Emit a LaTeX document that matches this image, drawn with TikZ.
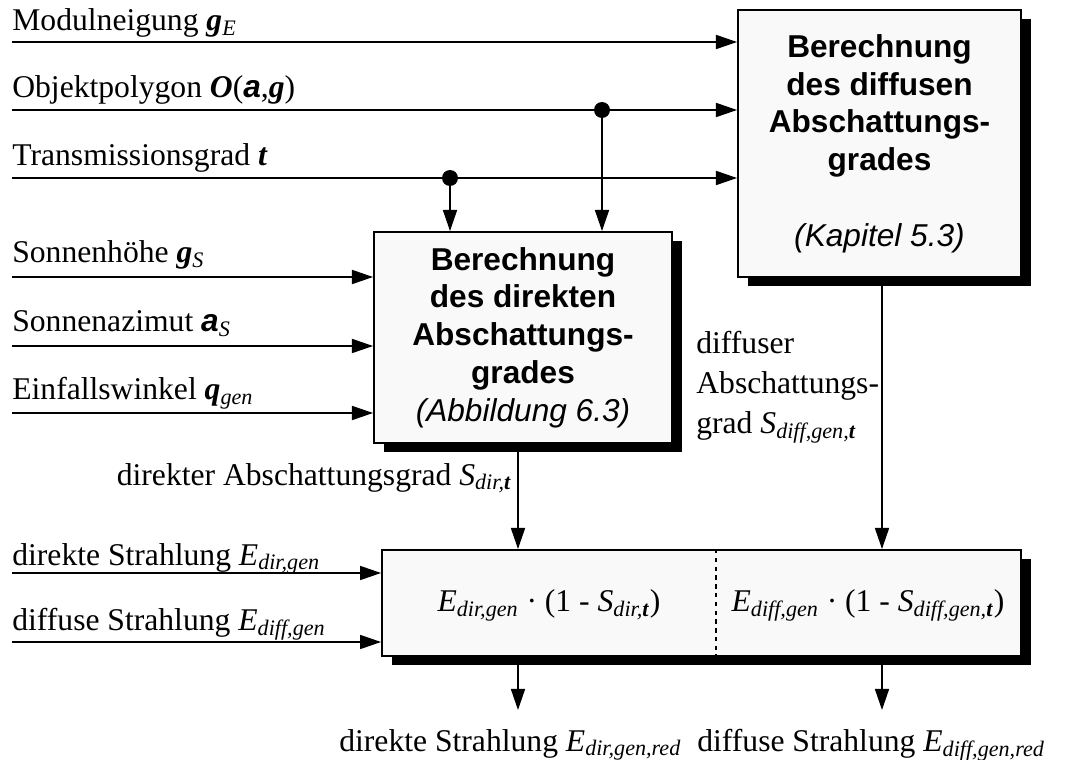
\documentclass[tikz,border=0pt]{standalone}
\usepackage{fontspec}
\setmainfont{Liberation Serif}
\newfontfamily\boxfont{Liberation Sans}
\usetikzlibrary{arrows.meta,shadows}

\newcommand{\gr}[1]{\textbf{\textit{#1}}}
\newcommand{\gra}{{\boxfont\bfseries\itshape a}}
\newcommand{\idx}[1]{\textsubscript{\textit{#1}}}

\begin{document}
\begin{tikzpicture}[x=0.02cm,y=-0.02cm,
  pil/.style={-{Triangle[length=12pt,width=8pt]},line width=0.85pt},
  blok/.style={draw,line width=1.1pt,fill=gray!5,align=center,inner sep=0pt,
    drop shadow={shadow xshift=0.2cm,shadow yshift=-0.18cm,fill=black,opacity=1}},
  boks/.style={font=\boxfont\bfseries\fontsize{18}{21.5}\selectfont},
  tekst/.style={font=\fontsize{18}{21.5}\selectfont,inner sep=0pt}]
\useasboundingbox (0,0) rectangle (1066,760);

% tegn bokse
\node[blok,boks,minimum width=5.66cm,minimum height=5.34cm] (diffbox) at (879.5,143.5)
  {Berechnung\\des diffusen\\Abschattungs-\\grades\\[21.5pt]\mdseries\itshape (Kapitel 5.3)};
\node[blok,boks,minimum width=5.96cm,minimum height=4.22cm] (dirbox) at (523,337.5)
  {Berechnung\\des direkten\\Abschattungs-\\grades\\\mdseries\itshape (Abbildung 6.3)};
\node[blok,minimum width=12.78cm,minimum height=2.12cm] (calc) at (701.5,603) {};
\coordinate (skel) at (716,603);
\draw[line width=0.9pt,dash pattern=on 2.5pt off 2.5pt] (skel |- calc.north) -- (skel |- calc.south);
\node[tekst] (dirf) at (549,605) {\textit{E}\idx{dir,gen} · (1 - \textit{S}\idx{dir,\textbf{t}})};
\node[tekst] (difff) at (868,605) {\textit{E}\idx{diff,gen} · (1 - \textit{S}\idx{diff,gen,\textbf{t}})};

% indgange
\coordinate (inE) at (12,42);
\coordinate (inO) at (12,110);
\coordinate (int) at (12,178);
\coordinate (ingS) at (12,277);
\coordinate (inaS) at (12,346);
\coordinate (inq) at (12,413);
\coordinate (inEdir) at (12,573);
\coordinate (inEdiff) at (12,642);
\node[tekst,anchor=base west] (lE) at (12,31) {Modulneigung \gr{g}\idx{E}};
\node[tekst,anchor=base west] (lO) at (12,98) {Objektpolygon \gr{O}(\gra,\gr{g})};
\node[tekst,anchor=base west] (lt) at (12,166) {Transmissionsgrad \gr{t}};
\node[tekst,anchor=base west] (lgS) at (12,263) {Sonnenhöhe \gr{g}\idx{S}};
\node[tekst,anchor=base west] (laS) at (12,332) {Sonnenazimut \gra\idx{S}};
\node[tekst,anchor=base west] (lq) at (12,400) {Einfallswinkel \gr{q}\idx{gen}};
\node[tekst,anchor=base west] (lEdir) at (12,565) {direkte Strahlung \textit{E}\idx{dir,gen}};
\node[tekst,anchor=base west] (lEdiff) at (12,630) {diffuse Strahlung \textit{E}\idx{diff,gen}};

\draw[pil] (inE) -- (inE -| diffbox.west);
\draw[pil] (inO) -- (inO -| diffbox.west);
\draw[pil] (int) -- (int -| diffbox.west);
\draw[pil] (ingS) -- (ingS -| dirbox.west);
\draw[pil] (inaS) -- (inaS -| dirbox.west);
\draw[pil] (inq) -- (inq -| dirbox.west);
\draw[pil] (inEdir) -- (inEdir -| calc.west);
\draw[pil] (inEdiff) -- (inEdiff -| calc.west);

% forgreninger
\coordinate (dotO) at (602,110);
\coordinate (dott) at (450,178);
\fill (dotO) circle (0.16cm);
\fill (dott) circle (0.16cm);
\draw[pil] (dotO) -- (dotO |- dirbox.north);
\draw[pil] (dott) -- (dott |- dirbox.north);

% afskygningsgrader
\coordinate (udir) at (518,710);
\coordinate (udiff) at (882,710);
\draw[pil] (dirbox.south -| udir) -- (calc.north -| udir);
\draw[pil] (diffbox.south -| udiff) -- (calc.north -| udiff);
\node[tekst,anchor=base east] (lSdir) at (512,485) {direkter Abschattungsgrad \textit{S}\idx{dir,\textbf{t}}};
\node[tekst,anchor=north west,align=left,font=\fontsize{18}{22.8}\selectfont] (lSdiff) at (696,331)
  {diffuser\\Abschattungs-\\grad \textit{S}\idx{diff,gen,\textbf{t}}};

% udgange
\draw[pil] (calc.south -| udir) -- (udir);
\draw[pil] (calc.south -| udiff) -- (udiff);
\node[tekst,anchor=base west] (oDir) at (339,751) {direkte Strahlung \textit{E}\idx{dir,gen,red}};
\node[tekst,anchor=base west] (oDiff) at (697,751) {diffuse Strahlung \textit{E}\idx{diff,gen,red}};
\end{tikzpicture}
\end{document}
